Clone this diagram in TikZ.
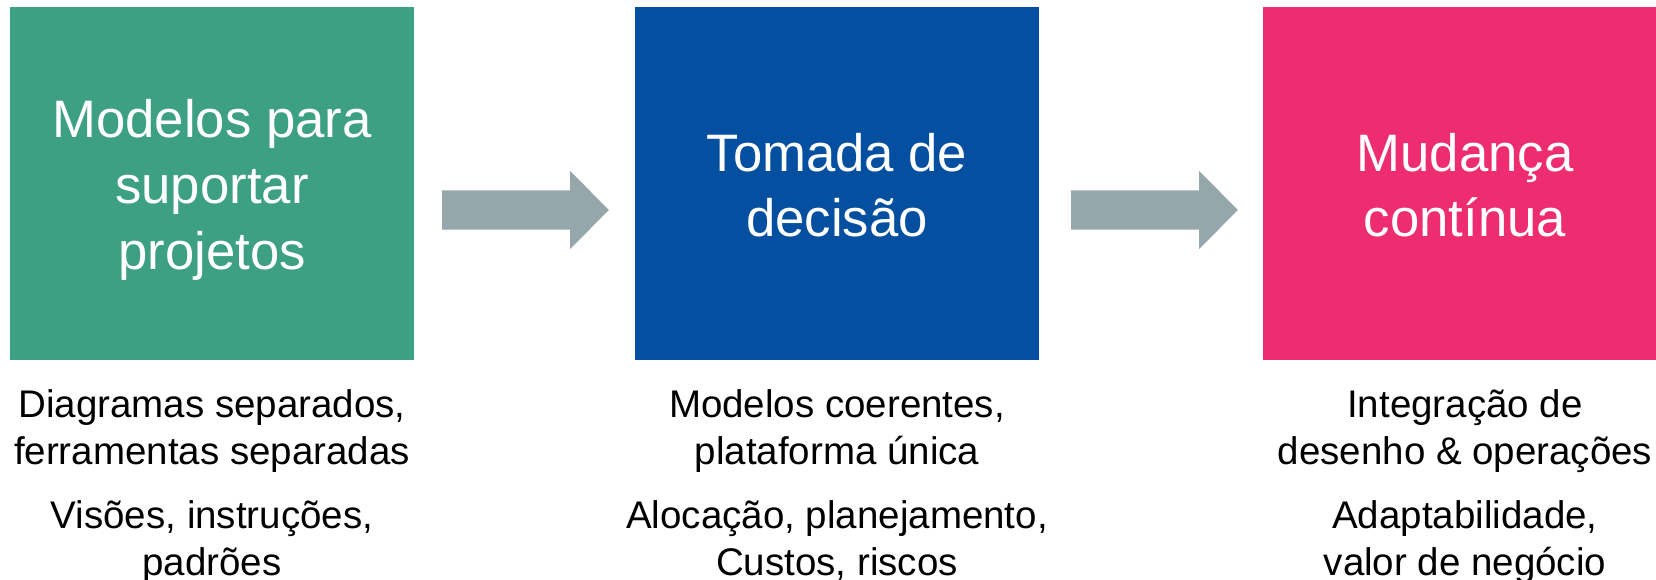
\documentclass[tikz,border=0pt]{standalone}
\usepackage{fontspec}
\setmainfont{Liberation Sans}
\usetikzlibrary{calc}
\definecolor{cgreen}{HTML}{3EA082}
\definecolor{cblue}{HTML}{054FA1}
\definecolor{cpink}{HTML}{ED2D6F}
\definecolor{cgray}{HTML}{95A7AA}
\tikzset{
  box/.style={rectangle, draw=none, minimum width=404pt, minimum height=353pt, inner sep=0pt},
  title/.style={text=white, align=center, anchor=base, inner sep=0pt, font=\fontsize{52.7}{65.5}\selectfont},
  desc/.style={text=black, align=center, anchor=base, inner sep=0pt, font=\fontsize{38.5}{47}\selectfont},
  blockarrow/.style={fill=cgray, draw=none}
}
\begin{document}
\begin{tikzpicture}[x=1pt, y=-1pt]
\useasboundingbox (0,0) rectangle (1656,580);
\clip (0,0) rectangle (1656,580);
\node[box, fill=cgreen] (b1) at (212,183.5) {};
\node[box, fill=cblue]  (b2) at (837,183.5) {};
\node[box, fill=cpink]  (b3) at (1465,183.5) {};
% titles (anchor = baseline of last line)
\node[title] (t1) at (212,269) {Modelos para\\suportar\\projetos};
\node[title] (t2) at (837,236.5) {Tomada de\\decisão};
\node[title] (t3) at (1465,236.5) {Mudança\\contínua};
% descriptions
\node[desc] (d1a) at (212,464) {Diagramas separados,\\ferramentas separadas};
\node[desc] (d1b) at (212,575) {Visões, instruções,\\padrões};
\node[desc] (d2a) at (837,464) {Modelos coerentes,\\plataforma única};
\node[desc] (d2b) at (837,575) {Alocação, planejamento,\\Custos, riscos};
\node[desc] (d3a) at (1465,464) {Integração de\\desenho \& operações};
\node[desc] (d3b) at (1465,575) {Adaptabilidade,\\valor de negócio};
% arrows
\coordinate (a1s) at ($(b1.east)+(28,26.5)$);
\coordinate (a1t) at ($(b2.west)+(-26,26.5)$);
\coordinate (a2s) at ($(b2.east)+(32,26.5)$);
\coordinate (a2t) at ($(b3.west)+(-25,26.5)$);
\fill[blockarrow] ($(a1s)+(0,-19.5)$) -- ($(a1s)+(128,-19.5)$) -- ($(a1s)+(128,-39)$) -- (a1t) -- ($(a1s)+(128,39)$) -- ($(a1s)+(128,19.5)$) -- ($(a1s)+(0,19.5)$) -- cycle;
\fill[blockarrow] ($(a2s)+(0,-19.5)$) -- ($(a2s)+(128,-19.5)$) -- ($(a2s)+(128,-39)$) -- (a2t) -- ($(a2s)+(128,39)$) -- ($(a2s)+(128,19.5)$) -- ($(a2s)+(0,19.5)$) -- cycle;
\end{tikzpicture}
\end{document}
